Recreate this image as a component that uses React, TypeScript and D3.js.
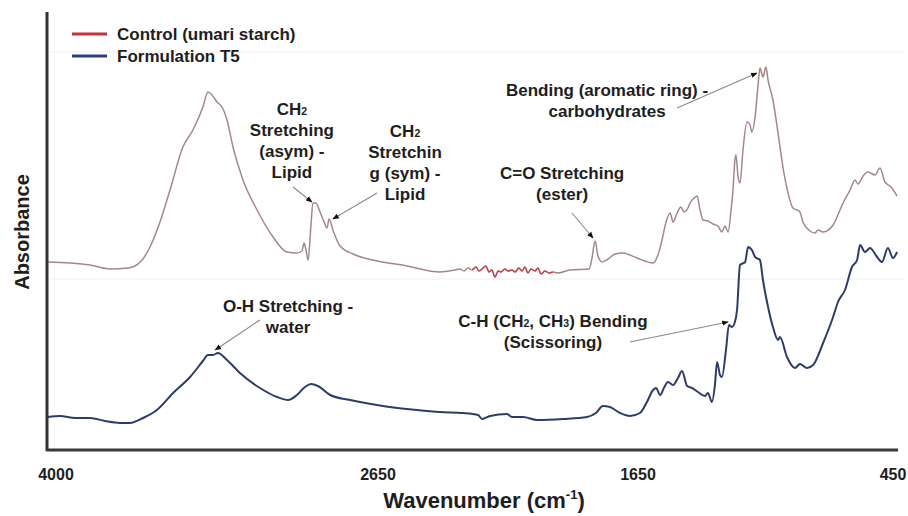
import React from 'react';
import * as d3 from 'd3';

const W = 908;
const H = 516;

// wavenumber tick labels (cm-1)
const xTicks = [4000, 2650, 1650, 450];

// Control (umari starch): wavenumber (cm-1) / absorbance (a.u.)
const controlWn = [4034, 3941, 3857, 3774, 3698, 3669, 3639, 3606, 3564, 3522,
  3468, 3426, 3384, 3363, 3346, 3325, 3304, 3283, 3258, 3216,
  3157, 3090, 3032, 2990, 2969, 2960, 2952, 2943, 2931, 2923,
  2910, 2893, 2876, 2864, 2855, 2839, 2809, 2755, 2671, 2538,
  2412, 2354, 2335, 2319, 2304, 2288, 2273, 2262, 2250, 2235,
  2223, 2212, 2200, 2188, 2177, 2162, 2150, 2135, 2123, 2108,
  2096, 2085, 2073, 2062, 2046, 2035, 2023, 2008, 1992, 1977,
  1958, 1912, 1838, 1827, 1815, 1804, 1788, 1765, 1738, 1708,
  1654, 1579, 1556, 1537, 1518, 1499, 1485, 1466, 1448, 1434,
  1415, 1405, 1386, 1372, 1358, 1344, 1321, 1297, 1274, 1255,
  1241, 1226, 1212, 1203, 1194, 1189, 1179, 1170, 1156, 1137,
  1123, 1114, 1099, 1085, 1076, 1062, 1048, 1038, 1015, 991,
  968, 944, 921, 902, 888, 874, 841, 817, 803, 779,
  732, 685, 652, 629, 615, 591, 568, 535, 511, 488,
  459, 431];
const controlAbs = [1.88, 1.87, 1.85, 1.81, 1.82, 1.84, 1.90, 2.03, 2.28, 2.60,
  3.03, 3.20, 3.43, 3.58, 3.55, 3.48, 3.43, 3.30, 3.03, 2.70,
  2.40, 2.13, 1.98, 1.97, 1.99, 2.07, 2.00, 1.90, 2.25, 2.47,
  2.47, 2.38, 2.28, 2.22, 2.31, 2.20, 2.04, 1.96, 1.90, 1.84,
  1.78, 1.80, 1.81, 1.79, 1.82, 1.80, 1.83, 1.79, 1.81, 1.84,
  1.78, 1.80, 1.73, 1.79, 1.78, 1.81, 1.79, 1.80, 1.78, 1.82,
  1.79, 1.83, 1.77, 1.81, 1.79, 1.82, 1.76, 1.79, 1.77, 1.78,
  1.77, 1.80, 1.81, 1.92, 2.09, 1.94, 1.88, 1.91, 1.96, 1.97,
  1.92, 1.87, 1.95, 2.10, 2.28, 2.37, 2.28, 2.37, 2.43, 2.38,
  2.42, 2.47, 2.52, 2.54, 2.40, 2.30, 2.29, 2.26, 2.24, 2.18,
  2.24, 2.18, 2.40, 2.60, 2.90, 2.95, 2.73, 2.67, 3.00, 3.28,
  3.25, 3.18, 3.33, 3.65, 3.82, 3.73, 3.83, 3.70, 3.50, 3.17,
  2.83, 2.57, 2.42, 2.40, 2.38, 2.28, 2.19, 2.17, 2.20, 2.18,
  2.25, 2.47, 2.60, 2.70, 2.66, 2.74, 2.78, 2.75, 2.82, 2.68,
  2.63, 2.54];
// noisy stretch of the control trace that shows up red
const controlNoiseRange = [2300, 1975];

// Formulation T5
const t5Wn = [4034, 3983, 3920, 3857, 3795, 3732, 3690, 3635, 3577, 3509,
  3438, 3384, 3363, 3342, 3321, 3283, 3229, 3145, 3073, 3027,
  2990, 2956, 2931, 2902, 2851, 2767, 2631, 2500, 2412, 2323,
  2265, 2250, 2219, 2154, 2135, 2092, 2038, 1938, 1846, 1812,
  1785, 1758, 1719, 1681, 1641, 1608, 1579, 1565, 1546, 1528,
  1509, 1485, 1462, 1443, 1419, 1396, 1368, 1335, 1321, 1302,
  1288, 1278, 1264, 1255, 1236, 1222, 1208, 1194, 1184, 1170,
  1146, 1132, 1114, 1099, 1076, 1062, 1038, 1015, 991, 982,
  949, 911, 888, 855, 826, 779, 732, 709, 676, 643,
  619, 605, 582, 558, 525, 502, 474, 450, 431];
const t5Abs = [0.33, 0.34, 0.32, 0.32, 0.29, 0.27, 0.27, 0.32, 0.40, 0.57,
  0.73, 0.89, 0.95, 0.95, 0.97, 0.90, 0.77, 0.62, 0.53, 0.50,
  0.55, 0.63, 0.66, 0.64, 0.55, 0.50, 0.44, 0.40, 0.38, 0.37,
  0.35, 0.31, 0.34, 0.36, 0.33, 0.33, 0.30, 0.31, 0.33, 0.37,
  0.44, 0.43, 0.37, 0.34, 0.37, 0.48, 0.60, 0.62, 0.55, 0.62,
  0.68, 0.65, 0.72, 0.79, 0.64, 0.62, 0.58, 0.54, 0.57, 0.48,
  0.65, 0.88, 0.75, 0.73, 1.00, 1.25, 1.23, 1.28, 1.40, 1.85,
  1.88, 2.03, 2.00, 1.93, 1.90, 1.70, 1.43, 1.23, 1.10, 1.13,
  0.93, 0.82, 0.86, 0.82, 0.85, 1.07, 1.33, 1.48, 1.60, 1.83,
  1.90, 2.05, 1.98, 2.02, 1.93, 1.88, 2.02, 1.92, 1.98];

// band labels: text anchor + arrow (from -> to), all in wavenumber / absorbance
// "_2" means a small subscript digit
const annotations = [
  { lines: ['CH_2', 'Stretching', '(asym) -', 'Lipid'], at: [3011, 3.35], from: [3006, 2.63], to: [2927, 2.48] },
  { lines: ['CH_2', 'Stretchin', 'g (sym) -', 'Lipid'], at: [2546, 3.13], from: [2654, 2.57], to: [2839, 2.31] },
  { lines: ['C=O Stretching', '(ester)'], at: [1942, 2.71], from: [1904, 2.37], to: [1823, 2.12] },
  { lines: ['Bending (aromatic ring) -', 'carbohydrates'], at: [1769, 3.54], from: [1466, 3.42], to: [1090, 3.77] },
  { lines: ['O-H Stretching -', 'water'], at: [3027, 1.38], from: [3145, 1.30], to: [3333, 1.00] },
  { lines: ['C-H (CH_2, CH_3) Bending', '(Scissoring)'], at: [1977, 1.23], from: [1681, 1.08], to: [1226, 1.28] },
];

const legend = [
  { label: 'Control (umari starch)', color: '#c8323c' },
  { label: 'Formulation T5', color: '#2e3f80' },
];

const font = '"Liberation Sans", Arial, sans-serif';
const ink = '#1e1e1e';

// split "CH_2" into normal text + small digit
const richText = (s: string) =>
  s.split(/(_\d)/).filter(p => p !== '').map((p, i) =>
    p.startsWith('_')
      ? <tspan key={i} fontSize="0.62em">{p.slice(1)}</tspan>
      : <tspan key={i}>{p}</tspan>
  );

export default function App() {
  const frame = { left: 47, right: 898, top: 12, bottom: 450 };

  // the printed tick labels are not evenly spaced, follow them piecewise
  const x = d3.scaleLinear().domain(xTicks).range([56, 378, 638, 893]);
  const y = d3.scaleLinear().domain([0, 4.4]).range([450, 10]);

  const line = d3.line<[number, number]>()
    .x(d => x(d[0]))
    .y(d => y(d[1]))
    .curve(d3.curveMonotoneX);

  const control = controlWn.map((w, i) => [w, controlAbs[i]] as [number, number]);
  const noisy = control.filter(d => d[0] <= controlNoiseRange[0] && d[0] >= controlNoiseRange[1]);
  const t5 = t5Wn.map((w, i) => [w, t5Abs[i]] as [number, number]);

  return (
    <svg width={W} height={H} style={{ position: 'absolute', left: 0, top: 0, background: '#fff' }}
      fontFamily={font} fontWeight="bold">
      <defs>
        <marker id="ah" viewBox="0 0 10 10" refX="9" refY="5" markerWidth="6" markerHeight="6" orient="auto">
          <path d="M0,1L10,5L0,9z" fill="#111" />
        </marker>
      </defs>

      {/* faint edges of the pasted control spectrum */}
      <line x1={frame.left + 3} x2={905} y1={52} y2={52} stroke="#efefef" />
      <line x1={frame.left + 3} x2={905} y1={279} y2={279} stroke="#efefef" />

      {/* spectra */}
      <path d={line(control) || ''} fill="none" stroke="#a48888" strokeWidth={1.5} strokeLinejoin="round" />
      <path d={line(noisy) || ''} fill="none" stroke="#c8202a" strokeOpacity={0.65} strokeWidth={1.4} strokeLinejoin="round" />
      <path d={line(t5) || ''} fill="none" stroke="#2e3c6a" strokeWidth={2} strokeLinejoin="round" />

      {/* axes */}
      <line x1={frame.left} x2={frame.left} y1={frame.top} y2={frame.bottom + 1} stroke="#333" strokeWidth={3} />
      <line x1={frame.left - 1} x2={frame.right} y1={frame.bottom} y2={frame.bottom} stroke="#3a3a3a" strokeWidth={3} />

      {xTicks.map(t => (
        <text key={t} x={x(t)} y={480} textAnchor="middle" fontSize={16} fill={ink}>{t}</text>
      ))}

      <text x={484} y={508} textAnchor="middle" fontSize={22} fill={ink}>
        Wavenumber (cm<tspan fontSize={13} dy={-9}>-1</tspan><tspan dy={9}>)</tspan>
      </text>
      <text transform="translate(29,232) rotate(-90)" textAnchor="middle" fontSize={20} fill={ink}>Absorbance</text>

      {/* legend */}
      {legend.map((l, i) => (
        <g key={l.label} transform={`translate(72,${34 + i * 22})`}>
          <line x1={0} x2={35} y1={0} y2={0} stroke={l.color} strokeWidth={3} />
          <text x={45} y={6} fontSize={17} fill={ink}>{l.label}</text>
        </g>
      ))}

      {/* band annotations */}
      {annotations.map((a, i) => (
        <g key={i}>
          <line x1={x(a.from[0])} y1={y(a.from[1])} x2={x(a.to[0])} y2={y(a.to[1])}
            stroke="#8a8a8a" strokeWidth={1.1} markerEnd="url(#ah)" />
          <text x={x(a.at[0])} y={y(a.at[1])} textAnchor="middle" fontSize={17} fill={ink}>
            {a.lines.map((s, j) => (
              <tspan key={j} x={x(a.at[0])} dy={j === 0 ? 0 : 21}>{richText(s)}</tspan>
            ))}
          </text>
        </g>
      ))}
    </svg>
  );
}
